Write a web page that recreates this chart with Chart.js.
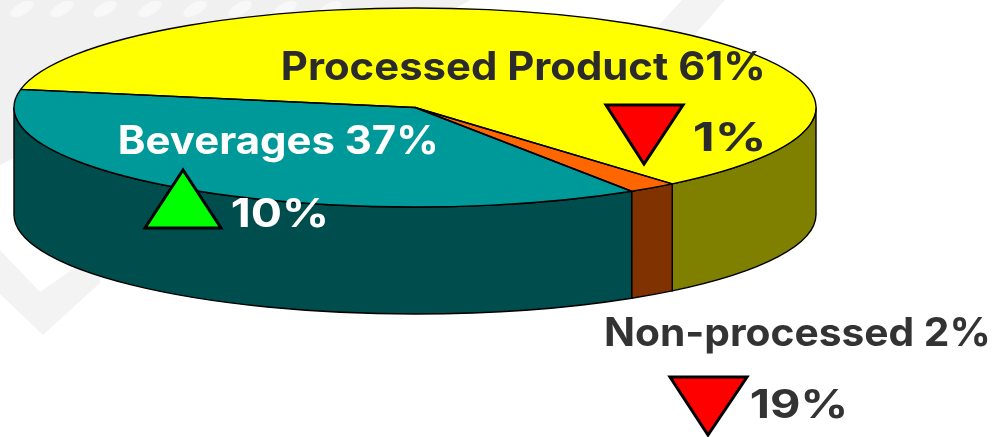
<!DOCTYPE html>
<html><head><meta charset="utf-8">
<style>html,body{margin:0;padding:0;background:#fff}#w{position:relative;width:994px;height:437px;overflow:hidden}canvas{position:absolute;left:0;top:0}</style>
<script src="https://cdn.jsdelivr.net/npm/chart.js@4"></script></head>
<body><div id="w"><canvas id="c" width="994" height="437"></canvas></div>
<script>
const categories = ['Processed Product', 'Non-processed', 'Beverages'];
const shareValues = [61, 2, 37];
const changeValues = [1, 19, 10];
const topColors = ['#ffff00', '#ff6600', '#009999'];
const wallColors = ['#808000', '#803300', '#004d4d'];
const labelTexts = ['Processed Product 61%', '1%', 'Beverages 37%', '10%', 'Non-processed 2%', '19%'];

const FONT = 'bold 39px Inter';
const cx = 415, cy = 107.5, rx = 401, ry = 99.5, depth = 107;

function wall(ctx, a0, a1, color) {
  const s = Math.max(a0, 0), e = Math.min(a1, Math.PI);
  if (e <= s) return;
  ctx.beginPath();
  ctx.ellipse(cx, cy, rx, ry, 0, s, e, false);
  ctx.ellipse(cx, cy + depth, rx, ry, 0, e, s, true);
  ctx.closePath();
  ctx.fillStyle = color; ctx.fill();
  ctx.strokeStyle = '#000'; ctx.lineWidth = 1.4; ctx.stroke();
}
function poly(ctx, pts, fill) {
  ctx.beginPath(); ctx.moveTo(pts[0], pts[1]);
  for (let i = 2; i < pts.length; i += 2) ctx.lineTo(pts[i], pts[i + 1]);
  ctx.closePath(); ctx.fillStyle = fill; ctx.fill();
}
function tri(ctx, pts, fill) {
  poly(ctx, pts, fill);
  ctx.strokeStyle = '#000'; ctx.lineWidth = 3; ctx.lineJoin = 'miter'; ctx.stroke();
}
function txt(ctx, s, x0, x1, base, color) {
  ctx.save();
  ctx.font = FONT; ctx.fillStyle = color; ctx.textAlign = 'left'; ctx.textBaseline = 'alphabetic';
  const m = ctx.measureText(s);
  const ink = m.actualBoundingBoxRight + m.actualBoundingBoxLeft;
  const k = (x1 - x0) / ink;
  ctx.translate(x0 + m.actualBoundingBoxLeft * k, base);
  ctx.scale(k, 1);
  ctx.fillText(s, 0, 0);
  ctx.restore();
}

const pie3d = {
  id: 'pie3d',
  beforeDraw(chart) {
    const ctx = chart.ctx;
    ctx.save();
    // faint watermark behind the pie
    poly(ctx, [0, 0, 470, 0, 300, 100, 14, 158, 0, 165], '#f0f0f0');
    poly(ctx, [682, 0, 725, 0, 690, 40, 645, 40], '#f3f3f3');
    poly(ctx, [0, 250, 40, 292, 100, 250, 100, 283, 43, 335, 0, 294], '#f3f3f3');
    ctx.fillStyle = 'rgba(255,255,255,0.5)';
    [22, 62, 105, 150, 195, 240, 285, 330].forEach(x => {
      ctx.beginPath(); ctx.ellipse(x, 9, 13, 6, -0.5, 0, 2 * Math.PI); ctx.fill();
    });
    ctx.restore();
  },
  beforeDatasetsDraw(chart) {
    const ctx = chart.ctx, arcs = chart.getDatasetMeta(0).data;
    arcs.forEach((arc, i) => {
      const p = arc.getProps(['startAngle', 'endAngle'], true);
      const turn = 2 * Math.PI;
      for (const k of [-2, -1, 0, 1]) wall(ctx, p.startAngle + k * turn, p.endAngle + k * turn, wallColors[i]);
    });
    const a = arcs[0];
    const R = a.outerRadius;
    ctx.save();
    ctx.translate(cx, cy); ctx.scale(rx / R, ry / R); ctx.translate(-a.x, -a.y);
  },
  afterDatasetsDraw(chart) {
    const ctx = chart.ctx, arcs = chart.getDatasetMeta(0).data;
    ctx.restore();
    ctx.save();
    ctx.strokeStyle = '#000'; ctx.lineWidth = 1.4; ctx.lineJoin = 'round';
    arcs.forEach(arc => {
      const p = arc.getProps(['startAngle', 'endAngle'], true);
      ctx.beginPath();
      ctx.moveTo(cx, cy);
      ctx.ellipse(cx, cy, rx, ry, 0, p.startAngle, p.endAngle, false);
      ctx.closePath(); ctx.stroke();
    });
    tri(ctx, [606, 105, 683, 105, 644, 164], '#ff0000');
    tri(ctx, [183, 170, 145, 228, 221, 228], '#00ff00');
    tri(ctx, [670, 377, 747, 377, 708, 435], '#ff0000');
    txt(ctx, labelTexts[0], 283, 763, 80, '#2b2b2b');
    txt(ctx, labelTexts[1], 694, 763, 151, '#2b2b2b');
    txt(ctx, labelTexts[2], 120, 436, 154, '#ffffff');
    txt(ctx, labelTexts[3], 232, 326, 227, '#ffffff');
    txt(ctx, labelTexts[4], 606, 988, 346, '#333333');
    txt(ctx, labelTexts[5], 751, 845, 418, '#333333');
    ctx.restore();
  }
};

new Chart(document.getElementById('c'), {
  type: 'pie',
  data: { labels: categories, datasets: [{ data: shareValues, backgroundColor: topColors, borderWidth: 0 }] },
  options: {
    responsive: false, animation: false, rotation: 280.5,
    layout: { padding: 0 },
    plugins: { legend: { display: false }, tooltip: { enabled: false } }
  },
  plugins: [pie3d]
});
</script></body></html>
